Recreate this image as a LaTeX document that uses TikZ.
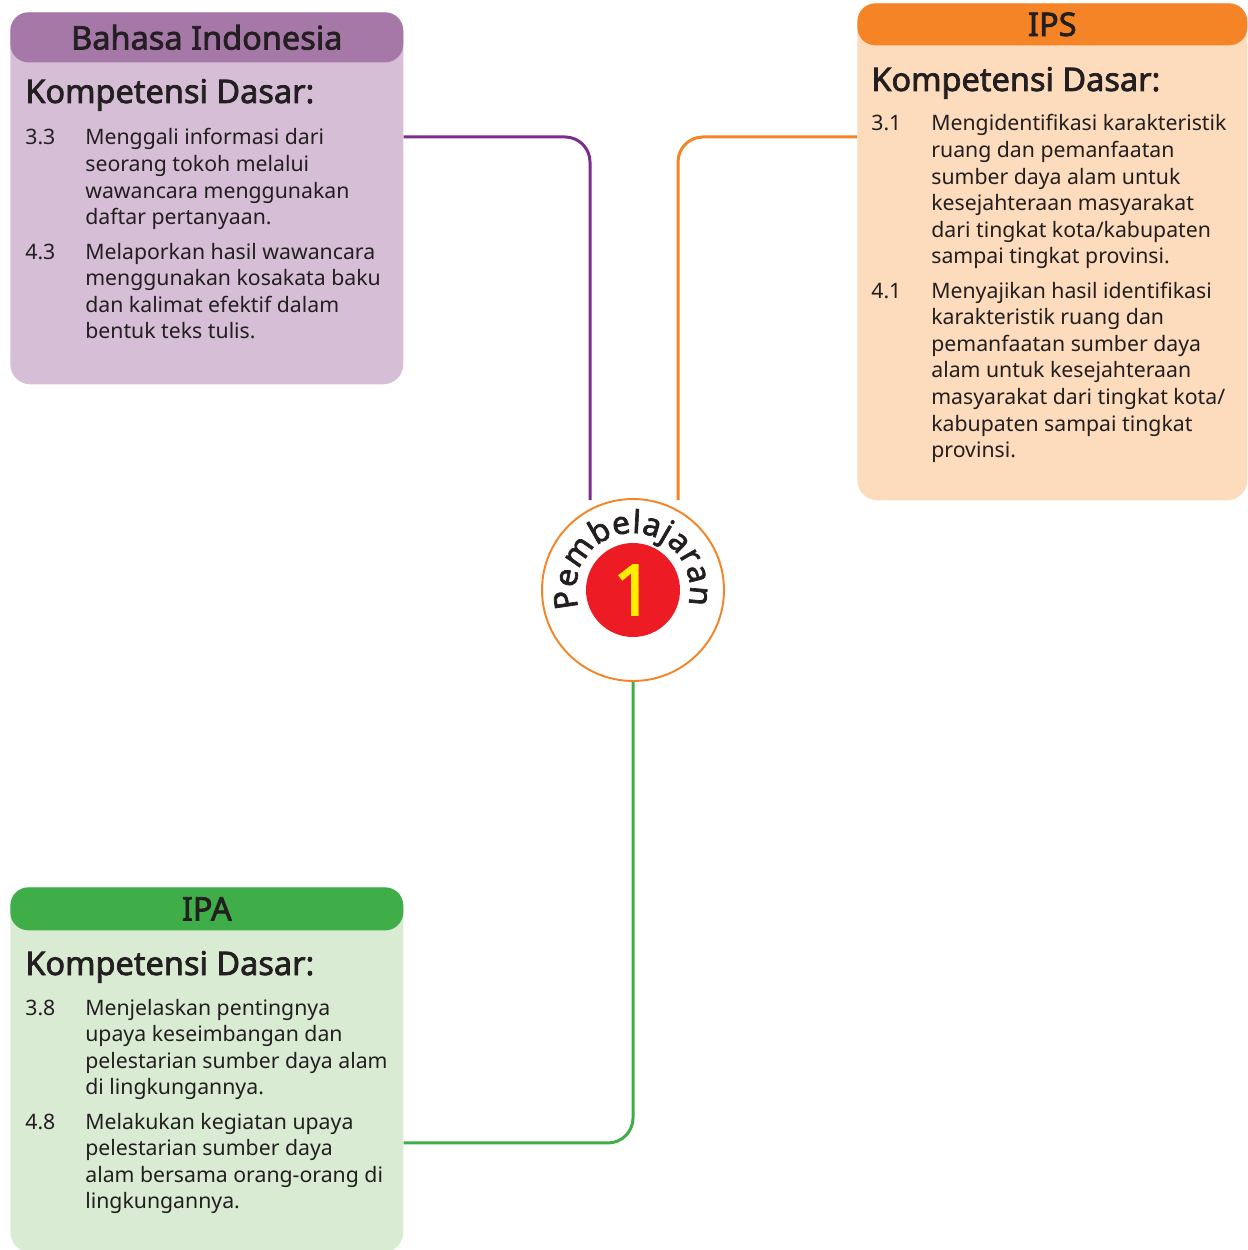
\documentclass[tikz,border=0pt]{standalone}
\usepackage{fontspec}
\setmainfont{Noto Sans}[AutoFakeBold=2.2]
\usepackage{xcolor}
\usepackage{tikz}
\usetikzlibrary{positioning,decorations.text}
\definecolor{bihead}{RGB}{166,120,168}
\definecolor{bibody}{RGB}{213,190,214}
\definecolor{biline}{RGB}{123,44,141}
\definecolor{ipshead}{RGB}{245,132,38}
\definecolor{ipsbody}{RGB}{253,219,189}
\definecolor{ipahead}{RGB}{63,174,73}
\definecolor{ipabody}{RGB}{218,235,212}
\definecolor{pbred}{RGB}{237,28,36}
\definecolor{pbyellow}{RGB}{255,237,0}
\definecolor{ink}{RGB}{35,31,32}
\tikzset{
  kdbox/.style   = {rectangle, rounded corners=0.4cm, inner sep=0pt},
  hdbox/.style   = {rectangle, rounded corners=0.36cm, inner sep=0pt, text=ink, font=\fontsize{18.5}{22}\selectfont\bfseries},
  kdtitle/.style = {inner sep=0pt, text=ink, font=\fontsize{18.5}{22}\selectfont\bfseries},
  kditem/.style  = {inner sep=0pt, text=ink, font=\fontsize{12.1}{15.1}\selectfont},
  link/.style    = {line width=1.7pt, rounded corners=0.5cm},
}
\newcommand{\kdlist}[1]{\begin{tabular}[t]{@{}p{1.2cm}@{}l@{}}#1\end{tabular}}

\begin{document}
\begin{tikzpicture}[x=0.02cm, y=0.02cm]
  \useasboundingbox (0,0) rectangle (1247,-1250);
  % Bahasa Indonesia
  \node[kdbox, fill=bibody, minimum width=7.86cm, minimum height=7.44cm, anchor=north west] (bi) at (10,-12) {};
  \node[hdbox, fill=bihead, minimum width=7.86cm, minimum height=1cm, anchor=north] (bihd) at (bi.north) {Bahasa Indonesia};
  \node[kdtitle, anchor=base west] (bikd) at (25,-103) {Kompetensi Dasar:};
  \node[kditem, anchor=base west] (bi33) at (25,-145) {\kdlist{3.3 & Menggali informasi dari\\ & seorang tokoh melalui\\ & wawancara menggunakan\\ & daftar pertanyaan.}};
  \node[kditem, below right=0.15cm and 0cm of bi33.south west] (bi43) {\kdlist{4.3 & Melaporkan hasil wawancara\\ & menggunakan kosakata baku\\ & dan kalimat efektif dalam\\ & bentuk teks tulis.}};
  % IPS
  \node[kdbox, fill=ipsbody, minimum width=7.8cm, minimum height=9.94cm, anchor=north west] (ips) at (857,-3) {};
  \node[hdbox, fill=ipshead, minimum width=7.8cm, minimum height=0.84cm, anchor=north] (ipshd) at (ips.north) {IPS};
  \node[kdtitle, anchor=base west] (ipskd) at (871,-91) {Kompetensi Dasar:};
  \node[kditem, anchor=base west] (ips31) at (871,-131) {\kdlist{3.1 & Mengidentifikasi karakteristik\\ & ruang dan pemanfaatan\\ & sumber daya alam untuk\\ & kesejahteraan masyarakat\\ & dari tingkat kota/kabupaten\\ & sampai tingkat provinsi.}};
  \node[kditem, below right=0.15cm and 0cm of ips31.south west] (ips41) {\kdlist{4.1 & Menyajikan hasil identifikasi\\ & karakteristik ruang dan\\ & pemanfaatan sumber daya\\ & alam untuk kesejahteraan\\ & masyarakat dari tingkat kota/\\ & kabupaten sampai tingkat\\ & provinsi.}};
  % IPA
  \node[kdbox, fill=ipabody, minimum width=7.86cm, minimum height=7.3cm, anchor=north west] (ipa) at (10,-887) {};
  \node[hdbox, fill=ipahead, minimum width=7.86cm, minimum height=0.86cm, anchor=north] (ipahd) at (ipa.north) {IPA};
  \node[kdtitle, anchor=base west] (ipakd) at (25,-975) {Kompetensi Dasar:};
  \node[kditem, anchor=base west] (ipa38) at (25,-1015) {\kdlist{3.8 & Menjelaskan pentingnya\\ & upaya keseimbangan dan\\ & pelestarian sumber daya alam\\ & di lingkungannya.}};
  \node[kditem, below right=0.15cm and 0cm of ipa38.south west] (ipa48) {\kdlist{4.8 & Melakukan kegiatan upaya\\ & pelestarian sumber daya\\ & alam bersama orang-orang di\\ & lingkungannya.}};
  % Pembelajaran 1
  \node[circle, draw=ipshead, line width=1.1pt, fill=white, minimum size=3.64cm] (pb) at (633,-590) {};
  \node[circle, fill=pbred, minimum size=1.88cm, inner sep=0pt, text=pbyellow, font=\fontsize{40}{40}\selectfont\bfseries] (pbnum) at (pb.center) {1};
  \path[decorate, decoration={text along path, text align={fit to path},
      text={|\fontsize{18}{20}\selectfont\bfseries\color{ink}|Pembelajaran}}]
    ([shift={(198:57)}]pb.center) arc[start angle=198, end angle=-15, radius=1.14cm];
  \coordinate (biend) at (590,-500);
  \coordinate (ipsend) at (678,-500);
  \draw[link, draw=biline] ([yshift=-2.5cm]bi.north east) -| (biend);
  \draw[link, draw=ipshead] ([yshift=-2.68cm]ips.north west) -| (ipsend);
  \draw[link, draw=ipahead] (pb.south) |- ([yshift=-5.12cm]ipa.north east);
\end{tikzpicture}
\end{document}
